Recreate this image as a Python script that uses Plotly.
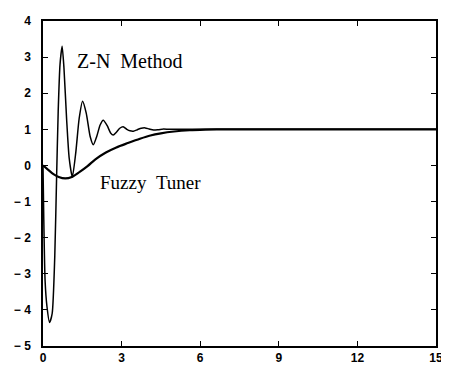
import plotly.graph_objects as go

# Z-N method response
zn_t = [0, 0.03, 0.08, 0.15, 0.25, 0.35, 0.45, 0.52, 0.58, 0.65, 0.73, 0.8, 0.9, 1.0,
        1.12, 1.25, 1.38, 1.51, 1.65, 1.8, 1.92, 2.05, 2.18, 2.3, 2.45, 2.58, 2.68,
        2.8, 2.93, 3.06, 3.2, 3.32, 3.45, 3.6, 3.75, 3.9, 4.05, 4.22, 4.4, 4.6, 4.8,
        5.0, 5.5, 6.0, 15.0]
zn_y = [0, -1.5, -3.2, -3.9, -4.35, -4.1, -2.5, -0.3, 1.5, 2.8, 3.3, 2.7, 1.3, 0.2,
        -0.32, 0.35, 1.3, 1.78, 1.45, 0.8, 0.57, 0.8, 1.12, 1.25, 1.1, 0.9, 0.84,
        0.92, 1.03, 1.07, 1.0, 0.96, 0.95, 0.99, 1.03, 1.04, 1.01, 0.98, 0.99, 1.01,
        1.0, 1.0, 1.0, 1.0, 1.0]

# Fuzzy tuner response
fz_t = [0, 0.2, 0.4, 0.6, 0.85, 1.1, 1.4, 1.7, 2.0, 2.4, 2.8, 3.24, 3.7, 4.1, 4.5,
        5.0, 5.6, 6.2, 7.0, 8.0, 15.0]
fz_y = [0, -0.12, -0.24, -0.32, -0.36, -0.32, -0.18, -0.02, 0.17, 0.36, 0.5, 0.62,
        0.74, 0.83, 0.89, 0.94, 0.975, 0.99, 1.0, 1.0, 1.0]

x_ticks = [0, 3, 6, 9, 12, 15]
x_labels = ["0", "3", "6", "9", "12", "15"]
y_ticks = [4, 3, 2, 1, 0, -1, -2, -3, -4, -5]
y_labels = ["4", "3", "2", "1", "0", "−\u00a01", "−\u00a02", "−\u00a03",
            "−\u00a04", "−\u00a05"]

fig = go.Figure()
fig.add_trace(go.Scatter(x=zn_t, y=zn_y, mode="lines",
                         line=dict(color="black", width=1.5, shape="spline", smoothing=0.6),
                         showlegend=False))
fig.add_trace(go.Scatter(x=fz_t, y=fz_y, mode="lines",
                         line=dict(color="black", width=2.2, shape="spline", smoothing=0.8),
                         showlegend=False))

fig.add_annotation(x=3.33, y=2.90, text="Z-N\u00a0\u00a0Method", showarrow=False,
                   font=dict(family="Liberation Serif", size=20, color="black"))
fig.add_annotation(x=4.12, y=-0.46, text="Fuzzy\u00a0\u00a0Tuner", showarrow=False,
                   font=dict(family="Liberation Serif", size=19, color="black"))

axis_common = dict(showgrid=False, zeroline=False, showline=True, linecolor="black",
                   linewidth=1.5, mirror="ticks", ticks="inside", ticklen=5,
                   tickcolor="black", tickwidth=1.2,
                   tickfont=dict(family="Liberation Sans", size=12, color="black", weight="bold"))

fig.update_xaxes(range=[0, 15], tickvals=x_ticks, ticktext=x_labels, **axis_common)
fig.update_yaxes(range=[-5, 4], tickvals=y_ticks, ticktext=y_labels,
                 ticklabelstandoff=8, **axis_common)

# page body has an 8px default margin; size the figure to compensate
fig.update_layout(width=441, height=363, margin=dict(l=32, r=8, t=6, b=22),
                  plot_bgcolor="white", paper_bgcolor="white")

fig.write_html("out.html")
